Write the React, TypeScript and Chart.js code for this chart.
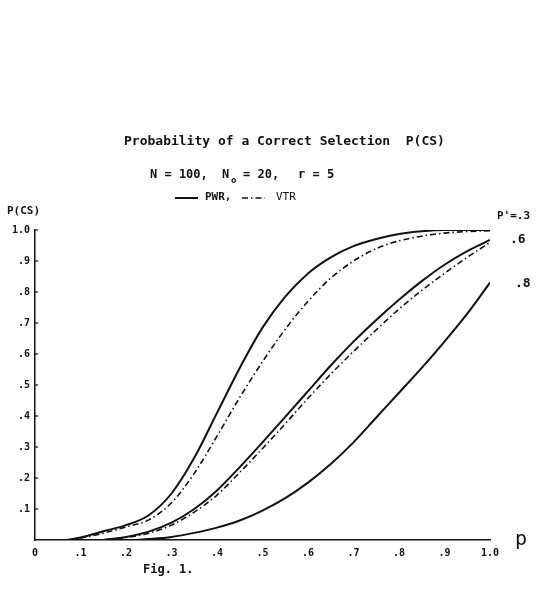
import React, { useEffect, useRef } from "react";
import { Chart, registerables } from "chart.js";

Chart.register(...registerables);

// ---- data ----
const pTop = [0.07, 0.1, 0.15, 0.2, 0.25, 0.3, 0.35, 0.4, 0.45, 0.5, 0.55, 0.6, 0.65, 0.7, 0.75, 0.8, 0.85, 0.9, 0.95, 1.0];
const pwr3 = [0, 0.008, 0.028, 0.048, 0.08, 0.15, 0.265, 0.41, 0.555, 0.685, 0.785, 0.86, 0.912, 0.948, 0.971, 0.987, 0.996, 1.0, 1.0, 1.0];
const vtr3 = [0, 0.006, 0.022, 0.042, 0.065, 0.12, 0.215, 0.335, 0.46, 0.575, 0.68, 0.77, 0.845, 0.9, 0.94, 0.965, 0.98, 0.99, 0.995, 0.998];

const pMid = [0.15, 0.2, 0.25, 0.3, 0.35, 0.4, 0.45, 0.5, 0.55, 0.6, 0.65, 0.7, 0.75, 0.8, 0.85, 0.9, 0.95, 1.0];
const pwr6 = [0, 0.01, 0.027, 0.056, 0.1, 0.16, 0.235, 0.315, 0.397, 0.48, 0.563, 0.64, 0.71, 0.775, 0.835, 0.888, 0.932, 0.968];
const vtr6 = [0, 0.008, 0.022, 0.048, 0.09, 0.145, 0.218, 0.295, 0.375, 0.457, 0.535, 0.608, 0.678, 0.745, 0.805, 0.86, 0.912, 0.96];

const pLow = [0.22, 0.25, 0.3, 0.35, 0.4, 0.45, 0.5, 0.55, 0.6, 0.65, 0.7, 0.75, 0.8, 0.85, 0.9, 0.95, 1.0];
const pwr8 = [0, 0.003, 0.01, 0.023, 0.04, 0.063, 0.095, 0.135, 0.185, 0.245, 0.315, 0.395, 0.475, 0.555, 0.64, 0.73, 0.83];

const curveLabels = ["P'=.3", ".6", ".8"];
const titleText = "Probability of a Correct Selection  P(CS)";
const figText = "Fig. 1.";

const MONO = "'DejaVu Sans Mono', 'Liberation Mono', monospace";
const INK = "#111";

const pts = (xs: number[], ys: number[]) => xs.map((x, i) => ({ x, y: ys[i] }));

const fmt = (v: number) => {
  const t = Math.round(v * 10);
  if (t === 0) return "0";
  if (t === 10) return "1.0";
  return "." + t;
};

const textPlugin = {
  id: "figText",
  afterDraw(chart: any) {
    const ctx = chart.ctx as CanvasRenderingContext2D;
    const xs = chart.scales.x;
    const ys = chart.scales.y;
    const area = chart.chartArea;
    ctx.save();
    ctx.fillStyle = INK;
    ctx.strokeStyle = INK;
    ctx.textBaseline = "middle";
    ctx.textAlign = "left";

    // small inward tick marks on the y axis
    ctx.lineWidth = 1.2;
    for (let i = 1; i <= 10; i++) {
      const y = ys.getPixelForValue(i / 10);
      ctx.beginPath();
      ctx.moveTo(area.left, y);
      ctx.lineTo(area.left + 3, y);
      ctx.stroke();
    }

    // title
    ctx.font = `bold 13px ${MONO}`;
    ctx.fillText(titleText, 124, 142);

    // parameters line
    ctx.font = `bold 12px ${MONO}`;
    ctx.fillText("N = 100,", 150, 175);
    ctx.fillText("N", 222, 175);
    ctx.font = `bold 9px ${MONO}`;
    ctx.fillText("o", 231, 181);
    ctx.font = `bold 12px ${MONO}`;
    ctx.fillText("= 20,", 243, 175);
    ctx.fillText("r = 5", 298, 175);

    // legend
    ctx.lineWidth = 2;
    ctx.setLineDash([]);
    ctx.beginPath();
    ctx.moveTo(175, 198);
    ctx.lineTo(198, 198);
    ctx.stroke();
    ctx.font = `bold 11px ${MONO}`;
    ctx.fillText("PWR,", 205, 197);
    ctx.lineWidth = 1.6;
    ctx.setLineDash([6, 3, 1.5, 3]);
    ctx.beginPath();
    ctx.moveTo(242, 198);
    ctx.lineTo(265, 198);
    ctx.stroke();
    ctx.setLineDash([]);
    ctx.font = `11px ${MONO}`;
    ctx.fillText("VTR", 276, 197);

    // y axis title
    ctx.font = `bold 11px ${MONO}`;
    ctx.fillText("P(CS)", 7, 211);

    // curve labels at the right end
    const xr = xs.getPixelForValue(1.0);
    ctx.font = `bold 11px ${MONO}`;
    ctx.fillText(curveLabels[0], xr + 7, ys.getPixelForValue(1.0) - 14);
    ctx.font = `bold 13px ${MONO}`;
    ctx.fillText(curveLabels[1], xr + 20, ys.getPixelForValue(0.968));
    ctx.fillText(curveLabels[2], xr + 25, ys.getPixelForValue(0.83) + 1);

    // x axis title
    ctx.font = `20px ${MONO}`;
    ctx.fillText("p", xr + 25, area.bottom);

    // figure caption
    ctx.font = `bold 12px ${MONO}`;
    ctx.fillText(figText, 143, 570);
    ctx.restore();
  },
};

export default function App() {
  const ref = useRef<HTMLCanvasElement | null>(null);

  useEffect(() => {
    if (!ref.current) return;
    const solid = { borderColor: INK, borderWidth: 2, pointRadius: 0, fill: false, cubicInterpolationMode: "monotone" as const };
    const dashed = { ...solid, borderWidth: 1.6, borderDash: [6, 3, 1.5, 3] };
    const chart = new Chart(ref.current, {
      type: "line",
      data: {
        datasets: [
          { label: "PWR .3", data: pts(pTop, pwr3), ...solid },
          { label: "VTR .3", data: pts(pTop, vtr3), ...dashed },
          { label: "PWR .6", data: pts(pMid, pwr6), ...solid },
          { label: "VTR .6", data: pts(pMid, vtr6), ...dashed },
          { label: "PWR .8", data: pts(pLow, pwr8), ...solid },
        ],
      },
      options: {
        animation: false,
        responsive: false,
        devicePixelRatio: 1,
        layout: { padding: { left: 0, right: 51, top: 230, bottom: 0 } },
        plugins: { legend: { display: false }, title: { display: false }, tooltip: { enabled: false } },
        scales: {
          x: {
            type: "linear",
            min: 0,
            max: 1,
            grid: { display: false, drawTicks: false },
            border: { display: true, color: INK, width: 1.5 },
            ticks: {
              stepSize: 0.1,
              color: INK,
              padding: 7,
              maxRotation: 0,
              autoSkip: false,
              font: { family: MONO, size: 10, weight: "bold" },
              callback: (v: any) => fmt(Number(v)),
            },
            afterFit: (s: any) => {
              s.height = 57;
            },
          },
          y: {
            type: "linear",
            min: 0,
            max: 1,
            grid: { display: false, drawTicks: false },
            border: { display: true, color: INK, width: 1.5 },
            ticks: {
              stepSize: 0.1,
              color: INK,
              padding: 5,
              autoSkip: false,
              font: { family: MONO, size: 10, weight: "bold" },
              callback: (v: any) => (Math.round(Number(v) * 10) === 0 ? "" : fmt(Number(v))),
            },
            afterFit: (s: any) => {
              s.width = 35;
            },
          },
        },
      },
      plugins: [textPlugin],
    });
    return () => chart.destroy();
  }, []);

  return (
    <div style={{ position: "absolute", left: 0, top: 0, width: 541, height: 597, background: "#fff" }}>
      <canvas ref={ref} width={541} height={597} style={{ display: "block", width: 541, height: 597 }} />
    </div>
  );
}
